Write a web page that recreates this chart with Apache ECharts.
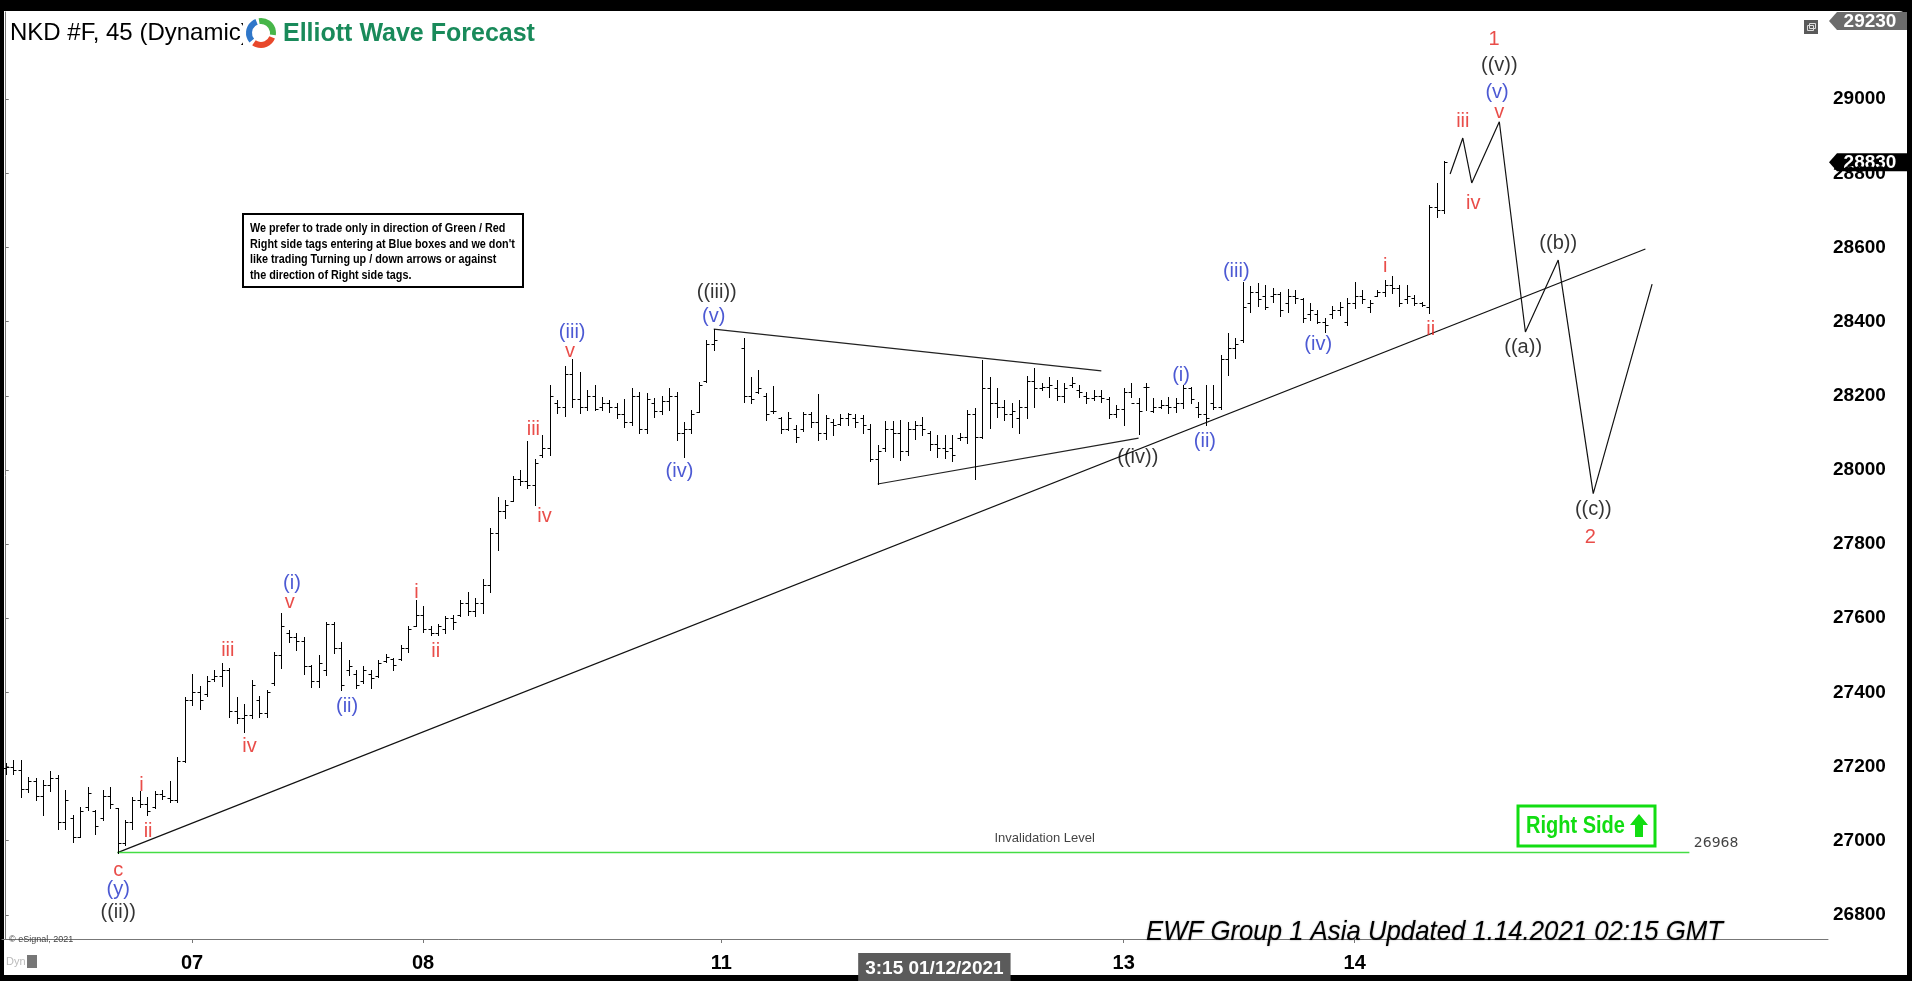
<!DOCTYPE html>
<html><head><meta charset="utf-8">
<script src="https://cdn.jsdelivr.net/npm/echarts@6/dist/echarts.min.js"></script>
<style>
html,body{margin:0;padding:0;background:#000;width:1912px;height:981px;overflow:hidden}
#panel{position:absolute;left:4px;top:11px;width:1903px;height:964px;background:#fff;border-top-right-radius:8px}
#chart{position:absolute;left:0;top:0;width:1912px;height:981px}
</style></head><body>
<div id="panel"></div><div id="chart"></div>
<script>
// ---- price bars (45 min), slot index = position in arrays; null = no bar ----
const highs = [
27210,27217,27219,27172,27168,27163,27188,27177,27138,27069,
27091,27144,27084,27138,27144,27087,27057,27118,27135,27118,
27134,27137,27162,27225,27387,27450,27417,27444,27460,27478,
27465,27387,27369,27433,27390,27406,27510,27613,27568,27561,
27550,27474,27501,27591,27591,27537,27487,27460,27471,27460,
27487,27503,27492,27528,
27579,27650,27632,27578,27585,27605,27609,27650,27672,27654,
27705,27843,27928,27919,27984,28000,28077,28029,28095,28229,
28189,28279,28299,28263,28216,28229,28198,28189,28180,28191,
28220,28211,28207,28193,28200,28220,28211,28128,28162,28238,
28351,28380,
null,null,null,
28355,28250,28270,28207,28227,28144,28157,28121,28157,28157,
28204,28148,28137,28151,28153,28151,28148,28124,28066,28133,
28133,28135,28128,28131,28144,28104,28095,28095,28095,28099,
28162,28166,28297,28250,28220,28189,28180,28189,28252,28274,
28234,28250,28243,28234,28250,28229,28211,28216,28216,28196,
28175,28220,28234,28193,28234,28193,28189,28198,28193,
28229,28225,28182,28229,28229,28310,28369,28355,28508,28496,
28504,28499,28490,28481,28487,28485,28463,28450,28432,28409,
28441,28454,28463,28508,28485,28459,28485,28513,28522,28499,
28499,28472,28454,28715,28773,28832];
const lows = [
27181,27181,27118,27132,27109,27069,27135,27033,27033,26997,
27009,27082,27019,27055,27087,26968,26988,27033,27092,27069,
27087,27112,27105,27105,27213,27366,27354,27390,27432,27417,
27333,27317,27294,27330,27333,27333,27420,27465,27537,27514,
27451,27415,27415,27447,27507,27406,27447,27413,27426,27413,
27442,27483,27460,27487,
27510,27579,27564,27555,27555,27560,27570,27606,27609,27606,
27614,27672,27784,27870,27915,27960,27951,27906,28036,28041,
28153,28146,28171,28153,28162,28162,28162,28157,28140,28117,
28122,28099,28099,28144,28150,28162,28081,28034,28099,28157,
28238,28324,
null,null,null,
28184,28180,28207,28135,28153,28099,28108,28074,28106,28117,
28081,28083,28095,28122,28122,28117,28099,28023,27962,28050,
28036,28027,28041,28083,28095,28054,28036,28032,28023,28081,
28072,27975,28086,28113,28144,28135,28117,28099,28139,28171,
28216,28198,28189,28184,28225,28198,28180,28189,28184,28139,
28144,28122,28198,28097,28162,28157,28166,28153,28155,
28167,28180,28144,28122,28164,28164,28256,28301,28346,28427,
28441,28433,28454,28414,28427,28450,28398,28405,28396,28373,
28409,28418,28391,28436,28450,28427,28468,28468,28477,28441,
28450,28445,28441,28423,28683,28692];
const opens = [
27195,27200,27190,27140,27160,27120,27150,27170,27050,27060,
27010,27090,27080,27060,27120,27087,26995,27050,27110,27100,
27090,27125,27115,27110,27215,27380,27400,27395,27435,27445,
27460,27350,27330,27340,27380,27345,27425,27500,27560,27550,
27540,27470,27430,27460,27585,27520,27460,27450,27430,27450,
27445,27485,27490,27490,
27520,27580,27610,27570,27560,27570,27600,27610,27640,27620,
27640,27690,27830,27890,27915,27975,27970,27960,28040,28060,
28180,28170,28260,28190,28170,28200,28170,28180,28170,28150,
28130,28200,28110,28180,28160,28185,28200,28100,28110,28157,
28240,28340,
null,null,null,
28330,28200,28210,28200,28160,28140,28110,28110,28110,28150,
28130,28100,28130,28125,28140,28140,28140,28110,28030,28060,
28110,28100,28050,28110,28120,28100,28070,28060,28060,28085,
28090,28150,28090,28220,28180,28170,28150,28140,28170,28240,
28220,28225,28220,28200,28230,28215,28200,28195,28200,28190,
28150,28165,28210,28180,28225,28160,28170,28175,28170,
28180,28220,28170,28150,28180,28170,28300,28330,28350,28450,
28480,28470,28470,28475,28450,28470,28460,28420,28420,28400,
28420,28430,28400,28450,28470,28440,28470,28480,28500,28490,
28460,28465,28450,28440,28710,28700];
const closes = [
27200,27190,27140,27160,27120,27150,27170,27050,27110,27010,
27080,27130,27040,27120,27100,26995,27050,27110,27100,27080,
27125,27120,27110,27215,27380,27400,27380,27430,27445,27460,
27350,27330,27340,27420,27345,27400,27500,27580,27550,27540,
27470,27430,27480,27585,27520,27420,27470,27420,27460,27440,
27480,27495,27475,27520,
27570,27610,27570,27560,27580,27600,27590,27640,27620,27640,
27690,27830,27890,27905,27975,27970,27960,28020,28060,28200,
28170,28260,28190,28170,28200,28165,28180,28170,28150,28130,
28200,28110,28190,28160,28185,28200,28100,28110,28150,28230,
28340,28350,
null,null,null,
28200,28190,28220,28150,28160,28110,28140,28090,28150,28130,
28100,28140,28120,28140,28150,28130,28120,28030,28050,28110,
28100,28050,28110,28120,28110,28070,28060,28050,28040,28090,
28150,28090,28220,28180,28170,28150,28160,28170,28240,28220,
28225,28230,28200,28220,28235,28210,28195,28200,28195,28150,
28165,28210,28180,28160,28225,28170,28175,28170,28180,
28220,28190,28150,28140,28170,28300,28330,28340,28440,28480,
28460,28440,28475,28430,28470,28465,28410,28430,28400,28390,
28430,28440,28450,28470,28460,28450,28480,28500,28490,28450,
28470,28450,28445,28710,28700,28830];

// ---- axis labels ----
const slotCount = 245;
const dayTicks = [25, 56, 96, 150, 181];
const dayLabels = ['07', '08', '11', '13', '14'];
const cursorPos = 124.6;
const cursorLabel = '3:15 01/12/2021';
const yTicks = [26800, 27000, 27200, 27400, 27600, 27800, 28000, 28200, 28400, 28600, 28800, 29000];
const yMin = 26735, yMax = 29235;
const lastPrice = 28830, topPrice = 29230;

// ---- drawn lines [slot, price] ----
const trendLine = [[15, 26968], [220, 28596]];
const triUpper = [[95, 28380], [147, 28267]];
const triLower = [[117, 27962], [152, 28086]];
const projection = [[193.8, 28798], [195.5, 28895], [196.7, 28774], [200.4, 28939], [203.9, 28372], [208.3, 28566], [213, 27936], [220.9, 28501]];
const invalidationLevel = 26968;
const invalidationSpan = [15, 225.9];

// ---- wave labels [text, slot, price] ----
const redLabels = [['c',15.1,26919],['i',18.2,27150],['ii',19.1,27024],['iii',29.8,27512],['iv',32.7,27255],['v',38.1,27642],
 ['i',55.1,27670],['ii',57.7,27511],['iii',70.8,28108],['iv',72.3,27875],['v',75.7,28320],
 ['i',185.1,28550],['ii',191.2,28379],['iii',195.5,28939],['iv',196.9,28718],['v',200.4,28965],['1',199.7,29160],['2',212.6,27817]];
const blueLabels = [['(y)',15.1,26868],['(i)',38.4,27694],['(ii)',45.8,27361],['(iii)',76,28372],['(iv)',90.4,27996],['(v)',95,28414],
 ['(i)',157.7,28256],['(ii)',160.9,28077],['(iii)',165.1,28535],['(iv)',176.1,28337],['(v)',200.1,29018]];
const blackLabels = [['((ii))',15.1,26806],['((iii))',95.4,28478],['((iv))',151.9,28034],['((v))',200.4,29090],
 ['((a))',203.6,28330],['((b))',208.3,28610],['((c))',213,27893]];

const FONT = '"Liberation Sans", Arial, sans-serif';

const ohlc = [];
for (let i = 0; i < highs.length; i++) {
  if (highs[i] == null) continue;
  ohlc.push([i, opens[i], highs[i], lows[i], closes[i]]);
}

function renderOHLC(params, api) {
  const i = api.value(0);
  const pO = api.coord([i, api.value(1)]);
  const pH = api.coord([i, api.value(2)]);
  const pL = api.coord([i, api.value(3)]);
  const pC = api.coord([i, api.value(4)]);
  const x = Math.round(pH[0]) + 0.5;
  const st = { stroke: '#000', lineWidth: 1 };
  const yo = Math.round(pO[1]) + 0.5, yc = Math.round(pC[1]) + 0.5;
  return { type: 'group', children: [
    { type: 'line', shape: { x1: x, y1: Math.round(pH[1]), x2: x, y2: Math.round(pL[1]) + 1 }, style: st },
    { type: 'line', shape: { x1: x - 3, y1: yo, x2: x, y2: yo }, style: st },
    { type: 'line', shape: { x1: x, y1: yc, x2: x + 3, y2: yc }, style: st }
  ]};
}

function lineSeries(data, color, width) {
  return { type: 'line', data: data, showSymbol: false, silent: true, z: 3,
    lineStyle: { color: color, width: width }, animation: false };
}
function labelSeries(list, color) {
  return { type: 'scatter', symbolSize: 1, silent: true, z: 6, animation: false,
    itemStyle: { color: 'rgba(0,0,0,0)' },
    label: { show: true, position: 'inside', formatter: '{b}', color: color, fontSize: 20, fontFamily: FONT },
    data: list.map(d => ({ name: d[0], value: [d[1], d[2]] })) };
}

const chart = echarts.init(document.getElementById('chart'), null, { renderer: 'canvas' });
chart.setOption({
  backgroundColor: 'transparent',
  animation: false,
  grid: { left: 2, right: 84, top: 12, bottom: 42, containLabel: false, outerBoundsMode: 'none' },
  xAxis: {
    type: 'value', min: -0.5, max: slotCount - 0.5,
    splitLine: { show: false },
    axisLine: { show: true, lineStyle: { color: '#777', width: 1 } },
    axisTick: { show: true, customValues: dayTicks, length: 4, lineStyle: { color: '#777' } },
    axisLabel: {
      customValues: dayTicks.concat([cursorPos]),
      margin: 14, color: '#000', fontWeight: 'bold', fontSize: 20, fontFamily: FONT,
      formatter: function (v) {
        if (Math.abs(v - cursorPos) < 0.01) return '{cur|' + cursorLabel + '}';
        const k = dayTicks.indexOf(Math.round(v));
        return k >= 0 ? dayLabels[k] : '';
      },
      rich: { cur: { backgroundColor: '#5b5b5b', color: '#fff', fontWeight: 'bold', fontSize: 19, fontFamily: FONT, padding: [6, 7, 5, 7] } }
    }
  },
  yAxis: {
    type: 'value', position: 'right', min: yMin, max: yMax, scale: true,
    splitLine: { show: false },
    axisLine: { show: true, lineStyle: { color: '#777', width: 1 } },
    axisTick: { show: true, customValues: yTicks, length: 3, lineStyle: { color: '#777' } },
    axisLabel: { customValues: yTicks, margin: 5, color: '#000', fontWeight: 'bold', fontSize: 19, fontFamily: FONT,
      formatter: function (v) { return String(v); } }
  },
  series: [
    { type: 'custom', renderItem: renderOHLC, data: ohlc, encode: { x: 0, y: [1, 2, 3, 4] }, z: 4, silent: true, animation: false },
    lineSeries(trendLine, '#111', 1.2),
    lineSeries(triUpper, '#222', 1.2),
    lineSeries(triLower, '#222', 1.2),
    lineSeries(projection, '#111', 1.2),
    lineSeries([[invalidationSpan[0], invalidationLevel], [invalidationSpan[1], invalidationLevel]], '#44dd44', 1.5),
    labelSeries(redLabels, '#e3201c'),
    labelSeries(blueLabels, '#1f2fc8'),
    labelSeries(blackLabels, '#000'),
    { type: 'scatter', symbolSize: 1, silent: true, z: 6, itemStyle: { color: 'rgba(0,0,0,0)' },
      label: { show: true, position: 'inside', formatter: '{b}', color: '#111', fontSize: 13, fontFamily: FONT },
      data: [{ name: 'Invalidation Level', value: [139.4, 27006] }] },
    { type: 'scatter', symbolSize: 1, silent: true, z: 6, itemStyle: { color: 'rgba(0,0,0,0)' },
      label: { show: true, position: 'right', distance: 4, offset: [0, -9], formatter: '{b}', color: '#111', fontSize: 14, fontFamily: '"DejaVu Sans", sans-serif' },
      data: [{ name: String(invalidationLevel), value: [invalidationSpan[1], invalidationLevel] }] }
  ]
});

const yLast = chart.convertToPixel({ yAxisIndex: 0 }, lastPrice);
const yTop = Math.max(chart.convertToPixel({ yAxisIndex: 0 }, topPrice) + 7, 21);
function tag(y, fill, text) {
  return { type: 'group', z: 50, children: [
    { type: 'polygon', shape: { points: [[1829, y], [1837, y - 9], [1907, y - 9], [1907, y + 9], [1837, y + 9]] }, style: { fill: fill } },
    { type: 'text', x: 1870, y: y + 1, style: { text: text, fill: '#fff', font: 'bold 19px ' + FONT, textAlign: 'center', textVerticalAlign: 'middle' } }
  ]};
}
const boxText = "We prefer to trade only in direction of Green / Red\nRight side tags entering at Blue boxes and we don't\nlike trading Turning up / down arrows or against\nthe direction of Right side tags.";
chart.setOption({
  graphic: [
    { type: 'text', x: 10, y: 33, z: 40, style: { text: 'NKD #F, 45 (Dynamic)', fill: '#000', font: '24px ' + FONT, textVerticalAlign: 'middle' } },
    { type: 'rect', shape: { x: 243, y: 13, width: 310, height: 42 }, z: 41, style: { fill: '#fff' } },
    { type: 'arc', z: 42, shape: { cx: 261, cy: 33, r: 12, startAngle: -Math.PI * 0.55, endAngle: Math.PI * 0.05 }, style: { stroke: '#47b649', lineWidth: 6, fill: null } },
    { type: 'arc', z: 42, shape: { cx: 261, cy: 33, r: 12, startAngle: Math.PI * 0.12, endAngle: Math.PI * 0.7 }, style: { stroke: '#e8482b', lineWidth: 6, fill: null } },
    { type: 'arc', z: 42, shape: { cx: 261, cy: 33, r: 12, startAngle: Math.PI * 0.78, endAngle: Math.PI * 1.38 }, style: { stroke: '#2f77c9', lineWidth: 6, fill: null } },
    { type: 'text', x: 283, y: 34, z: 42, style: { text: 'Elliott Wave Forecast', fill: '#198a5a', font: 'bold 25px ' + FONT, textVerticalAlign: 'middle' } },
    { type: 'rect', z: 42, shape: { x: 243, y: 214, width: 280, height: 73 }, style: { fill: '#fff', stroke: '#000', lineWidth: 2 } },
    { type: 'text', x: 250, y: 221, z: 43, scaleX: 0.9, style: { text: boxText, fill: '#000', font: 'bold 12px ' + FONT, lineHeight: 15.5 } },
    { type: 'text', x: 1146, y: 932, z: 43, scaleX: 0.92, style: { text: 'EWF Group 1 Asia Updated 1.14.2021 02:15 GMT', fill: '#000', font: 'italic 28px ' + FONT, textVerticalAlign: 'middle', textShadowColor: 'rgba(0,0,0,0.35)', textShadowBlur: 2 } },
    { type: 'rect', z: 42, shape: { x: 1518, y: 806, width: 137, height: 40 }, style: { fill: '#fff', stroke: '#12dd12', lineWidth: 3 } },
    { type: 'text', x: 1526, y: 827, z: 43, scaleX: 0.87, style: { text: 'Right Side', fill: '#12dd12', font: 'bold 23px ' + FONT, textVerticalAlign: 'middle' } },
    { type: 'polygon', z: 43, shape: { points: [[1639, 814], [1648, 825], [1643, 825], [1643, 837], [1635, 837], [1635, 825], [1630, 825]] }, style: { fill: '#12dd12' } },
    tag(yLast, '#000', String(lastPrice)),
    tag(yTop, '#6c6c6c', String(topPrice)),
    { type: 'rect', z: 44, shape: { x: 1804, y: 20, width: 14, height: 14 }, style: { fill: '#5a5a5a' } },
    { type: 'rect', z: 45, shape: { x: 1807.5, y: 25.5, width: 6, height: 5 }, style: { fill: null, stroke: '#ddd', lineWidth: 1 } },
    { type: 'rect', z: 45, shape: { x: 1809.5, y: 23.5, width: 6, height: 5 }, style: { fill: null, stroke: '#ddd', lineWidth: 1 } },
    { type: 'text', x: 9, y: 940, z: 43, style: { text: '© eSignal, 2021', fill: '#444', font: '9px ' + FONT, textVerticalAlign: 'middle' } },
    { type: 'text', x: 6, y: 962, z: 43, style: { text: 'Dyn', fill: '#bbb', font: '11px ' + FONT, textVerticalAlign: 'middle' } },
    { type: 'rect', z: 43, shape: { x: 27, y: 955, width: 10, height: 13 }, style: { fill: '#777' } }
  ]
});
</script></body></html>
